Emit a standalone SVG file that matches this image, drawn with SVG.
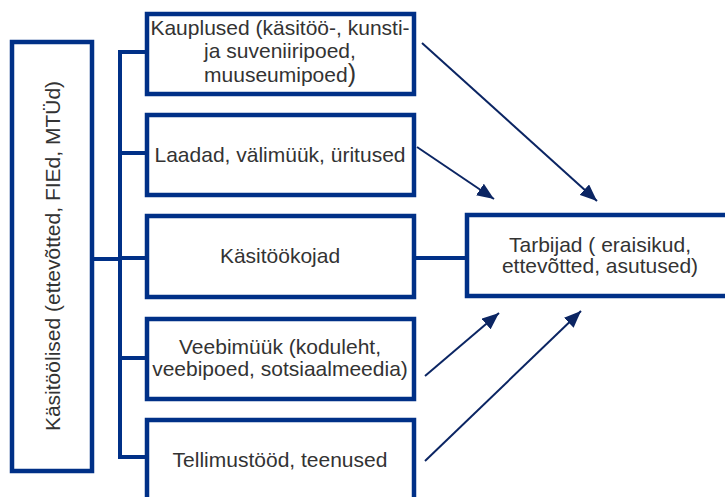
<svg xmlns="http://www.w3.org/2000/svg" width="725" height="497" viewBox="0 0 725 497">
<style>
.box{fill:#fff;stroke:#003087;stroke-width:4.5}
.t{font-family:"Liberation Sans",Arial,sans-serif;font-size:21px;fill:#333;text-anchor:middle}
.conn{stroke:#003087;stroke-width:4;fill:none}
.arr{stroke:#0b2563;stroke-width:2;fill:none;marker-end:url(#ah)}
</style>
<defs>
<marker id="ah" markerUnits="userSpaceOnUse" markerWidth="17" markerHeight="14" refX="17" refY="7" orient="auto">
<path d="M0,0 L17,7 L0,14 z" fill="#0b2563"/>
</marker>
</defs>
<rect width="725" height="497" fill="#fff"/>
<g id="connectors">
<path class="conn" d="M94,259 H120 M120,50 V459 M118,52 H147 M118,153 H147 M118,258 H147 M118,358 H147 M118,457 H147"/>
<path class="conn" d="M416,258 H467"/>
<line class="arr" x1="422" y1="43" x2="597" y2="201"/>
<line class="arr" x1="417" y1="147" x2="494" y2="199"/>
<line class="arr" x1="425" y1="376" x2="499" y2="313"/>
<line class="arr" x1="425" y1="461" x2="581" y2="311"/>
</g>
<g id="n-kasitoolised">
<rect class="box" x="12" y="42" width="80" height="429"/>
<text class="t" transform="translate(60,256) rotate(-90)">Käsitöölised (ettevõtted, FIEd, MTÜd)</text>
</g>
<g id="n-kauplused">
<rect class="box" x="147" y="14" width="267" height="80"/>
<text class="t" x="280" y="35">Kauplused (käsitöö-, kunsti-</text>
<text class="t" x="280" y="57.5">ja suveniiripoed,</text>
<text class="t" x="280" y="82">muuseumipoed<tspan font-size="25">)</tspan></text>
</g>
<g id="n-laadad">
<rect class="box" x="147" y="115" width="267" height="80"/>
<text class="t" x="280" y="162">Laadad, välimüük, üritused</text>
</g>
<g id="n-kojad">
<rect class="box" x="147" y="216" width="267" height="81"/>
<text class="t" x="280" y="263">Käsitöökojad</text>
</g>
<g id="n-veeb">
<rect class="box" x="147" y="319" width="267" height="80"/>
<text class="t" x="280" y="354">Veebimüük (koduleht,</text>
<text class="t" x="280" y="376">veebipoed, sotsiaalmeedia)</text>
</g>
<g id="n-tellimus">
<rect class="box" x="147" y="420" width="267" height="95"/>
<text class="t" x="280" y="467">Tellimustööd, teenused</text>
</g>
<g id="n-tarbijad">
<rect class="box" x="467" y="215" width="300" height="81"/>
<text class="t" x="600" y="252">Tarbijad ( eraisikud,</text>
<text class="t" x="600" y="273">ettevõtted, asutused)</text>
</g>
</svg>
